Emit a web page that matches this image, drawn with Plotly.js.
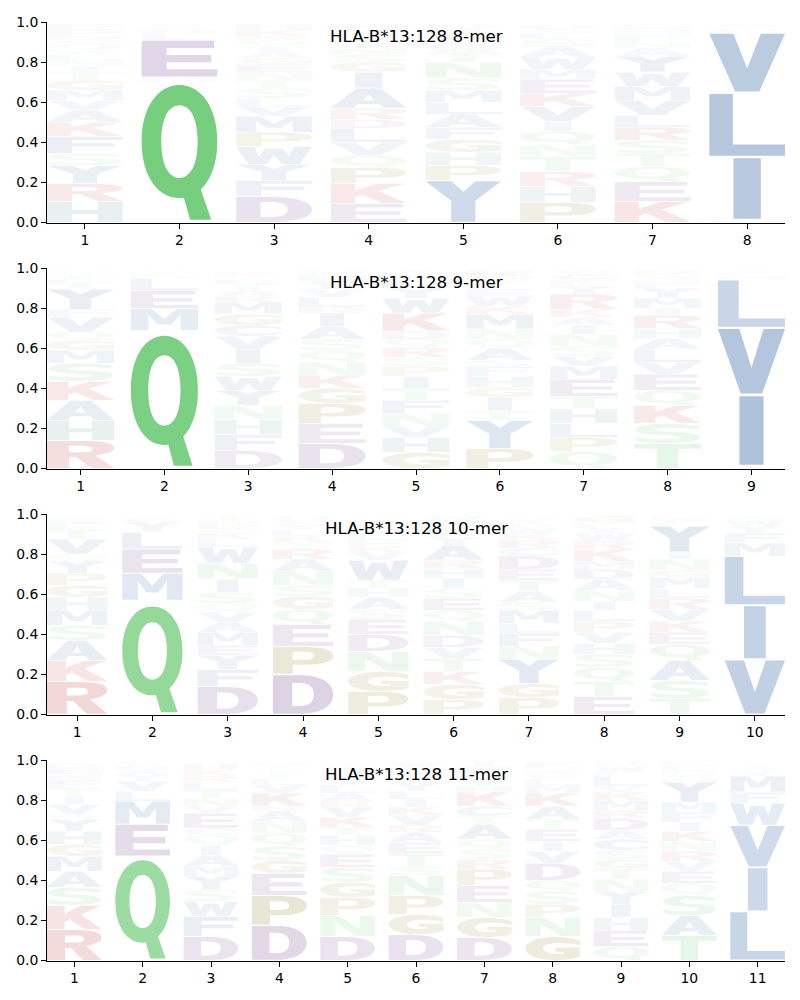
<!DOCTYPE html>
<html>
<head>
<meta charset="utf-8">
<script src="https://cdn.plot.ly/plotly-3.0.1.min.js"></script>
<style>
    body { margin: 0; background: #fff; }
    #chart { width: 800px; height: 1000px; }
</style>
</head>
<body>
<div id="chart"></div>
<script>
// Logo titles
var titles = ['HLA-B*13:128 8-mer', 'HLA-B*13:128 9-mer', 'HLA-B*13:128 10-mer', 'HLA-B*13:128 11-mer'];

// Letters per position, bottom to top, and their heights (probabilities)
var mer8Letters = ['HRYSFKAVMGTINLWQCDPE', 'QMELDAS', 'DFYWPMVLSTNEGAIQRKH', 'EKPQVLDRAIGSNTMFWH',
    'YPHGFALMSNTWVQEKD', 'PHRTNQIVKEMWASLGD', 'KEQTSRLVMWYANFHDG', 'MILVFYA'];
var mer8Heights = [
    [0.105, 0.09, 0.09, 0.06, 0.085, 0.07, 0.06, 0.05, 0.05, 0.05, 0.04, 0.03, 0.03, 0.03, 0.02, 0.03, 0.02, 0.02, 0.03, 0.03],
    [0.70, 0.025, 0.185, 0.03, 0.02, 0.015, 0.015],
    [0.13, 0.08, 0.08, 0.09, 0.07, 0.08, 0.05, 0.04, 0.05, 0.04, 0.04, 0.04, 0.03, 0.03, 0.03, 0.03, 0.02, 0.03, 0.03],
    [0.095, 0.1, 0.08, 0.06, 0.065, 0.07, 0.045, 0.055, 0.1, 0.08, 0.05, 0.04, 0.03, 0.03, 0.02, 0.02, 0.02, 0.03],
    [0.21, 0.075, 0.065, 0.065, 0.06, 0.065, 0.06, 0.06, 0.06, 0.08, 0.05, 0.03, 0.03, 0.02, 0.02, 0.02, 0.02],
    [0.1, 0.08, 0.075, 0.075, 0.06, 0.065, 0.05, 0.075, 0.065, 0.07, 0.05, 0.06, 0.05, 0.04, 0.03, 0.02, 0.02],
    [0.105, 0.1, 0.075, 0.065, 0.065, 0.065, 0.06, 0.075, 0.07, 0.07, 0.08, 0.04, 0.03, 0.03, 0.02, 0.02, 0.02],
    [0.012, 0.315, 0.32, 0.3, 0.02, 0.015, 0.01]
];

var mer9Letters = ['RHAKSMGQVFYTEIN', 'QAMELDTS', 'DFHNYWSIVCGMRATELKQ', 'DEPGKNQSAIRLVYHM',
    'GHVNFTIPSRQDKWYLMA', 'PYTIGHFSAQNMKWELVDR', 'QPLHTEMVSNIAKRYFGW', 'TSKQEVLAHRIMYFNGD', 'AIVLMFY'];
var mer9Heights = [
    [0.14, 0.1, 0.1, 0.095, 0.09, 0.065, 0.05, 0.04, 0.075, 0.04, 0.1, 0.03, 0.02, 0.02, 0.02],
    [0.675, 0.012, 0.11, 0.09, 0.06, 0.015, 0.015, 0.013],
    [0.09, 0.08, 0.075, 0.07, 0.075, 0.07, 0.065, 0.07, 0.065, 0.055, 0.055, 0.06, 0.03, 0.03, 0.03, 0.02, 0.02, 0.02, 0.01],
    [0.125, 0.1, 0.1, 0.075, 0.065, 0.065, 0.06, 0.055, 0.065, 0.065, 0.03, 0.05, 0.04, 0.04, 0.03, 0.02],
    [0.08, 0.075, 0.055, 0.065, 0.065, 0.06, 0.06, 0.05, 0.045, 0.05, 0.04, 0.04, 0.09, 0.075, 0.05, 0.04, 0.03, 0.02],
    [0.1, 0.14, 0.05, 0.065, 0.05, 0.055, 0.05, 0.03, 0.06, 0.045, 0.05, 0.075, 0.04, 0.05, 0.03, 0.03, 0.02, 0.02, 0.03],
    [0.085, 0.07, 0.07, 0.075, 0.06, 0.085, 0.065, 0.05, 0.05, 0.06, 0.045, 0.04, 0.04, 0.075, 0.04, 0.03, 0.03, 0.02],
    [0.125, 0.1, 0.09, 0.075, 0.08, 0.06, 0.065, 0.055, 0.05, 0.065, 0.035, 0.05, 0.05, 0.03, 0.02, 0.02, 0.02],
    [0.012, 0.355, 0.335, 0.24, 0.02, 0.015, 0.01]
];

var mer10Letters = ['RKASMHGPYQVTFEL', 'QTMELYDA', 'DFYEMAVQSINWLKGRHT', 'DPEQGSNARTKLYVH', 'PGNDESAHTWVKFLMRIQ',
    'PGKTVDNQESIHRAYFLMW', 'PGYNFLMSATEDCRKWVIQ', 'ETQSHVPLINADMKRWYFGC', 'TSAQEKVRLMGNIYFWD', 'VILMFYWA'];
var mer10Heights = [
    [0.165, 0.105, 0.1, 0.075, 0.075, 0.065, 0.06, 0.06, 0.06, 0.035, 0.075, 0.05, 0.03, 0.02, 0.015],
    [0.55, 0.02, 0.135, 0.12, 0.085, 0.05, 0.015, 0.015],
    [0.14, 0.085, 0.07, 0.05, 0.065, 0.05, 0.05, 0.045, 0.055, 0.065, 0.08, 0.08, 0.04, 0.03, 0.02, 0.02, 0.02, 0.025],
    [0.2, 0.14, 0.11, 0.075, 0.065, 0.055, 0.07, 0.06, 0.05, 0.035, 0.03, 0.03, 0.03, 0.02, 0.02],
    [0.115, 0.1, 0.1, 0.085, 0.075, 0.05, 0.06, 0.045, 0.04, 0.1, 0.04, 0.03, 0.03, 0.03, 0.03, 0.02, 0.02, 0.02],
    [0.075, 0.075, 0.065, 0.065, 0.055, 0.06, 0.07, 0.055, 0.06, 0.05, 0.05, 0.05, 0.04, 0.075, 0.04, 0.03, 0.03, 0.02, 0.025],
    [0.085, 0.07, 0.12, 0.065, 0.065, 0.05, 0.065, 0.04, 0.055, 0.055, 0.055, 0.065, 0.04, 0.04, 0.03, 0.03, 0.02, 0.02, 0.02],
    [0.09, 0.075, 0.07, 0.065, 0.055, 0.055, 0.055, 0.055, 0.045, 0.055, 0.055, 0.05, 0.04, 0.06, 0.04, 0.04, 0.03, 0.02, 0.035, 0.02],
    [0.08, 0.09, 0.1, 0.08, 0.06, 0.055, 0.06, 0.055, 0.05, 0.055, 0.035, 0.055, 0.035, 0.13, 0.02, 0.02, 0.01],
    [0.275, 0.27, 0.245, 0.065, 0.05, 0.035, 0.03, 0.02]
];

var mer11Letters = ['RKSAMGHYQVITFNEDW', 'QTEMLVYADS', 'DFWSYMAIQCEVNTLRKHG', 'DPEGSQNARKVLTIYH', 'DNPGSEQHTKVRALYMFWI',
    'DGPNSTEARVKILYFHMW', 'DGNEPRSQATCKHYLVMI', 'GNPSQDVIETAKMLWRYF', 'QEHIYNTGSCADRMKVLFWP', 'TASQEVRNKIFMYHWDLG', 'LIVWFMYAT'];
var mer11Heights = [
    [0.155, 0.12, 0.09, 0.08, 0.075, 0.06, 0.065, 0.06, 0.025, 0.05, 0.04, 0.04, 0.04, 0.03, 0.03, 0.02, 0.01],
    [0.51, 0.01, 0.16, 0.115, 0.05, 0.05, 0.03, 0.025, 0.02, 0.02],
    [0.12, 0.1, 0.075, 0.06, 0.065, 0.05, 0.055, 0.05, 0.05, 0.035, 0.075, 0.035, 0.04, 0.04, 0.04, 0.03, 0.03, 0.03, 0.01],
    [0.175, 0.15, 0.11, 0.065, 0.07, 0.065, 0.06, 0.05, 0.025, 0.065, 0.04, 0.03, 0.03, 0.02, 0.02, 0.015],
    [0.12, 0.105, 0.09, 0.075, 0.075, 0.065, 0.045, 0.05, 0.04, 0.05, 0.05, 0.03, 0.04, 0.04, 0.03, 0.03, 0.02, 0.02, 0.015],
    [0.13, 0.1, 0.095, 0.1, 0.045, 0.065, 0.055, 0.05, 0.035, 0.05, 0.04, 0.04, 0.04, 0.04, 0.03, 0.03, 0.02, 0.025],
    [0.115, 0.1, 0.075, 0.085, 0.08, 0.05, 0.05, 0.05, 0.075, 0.04, 0.05, 0.07, 0.03, 0.03, 0.03, 0.02, 0.02, 0.02],
    [0.12, 0.095, 0.065, 0.065, 0.055, 0.085, 0.06, 0.05, 0.06, 0.05, 0.065, 0.065, 0.04, 0.03, 0.02, 0.02, 0.015, 0.03],
    [0.07, 0.08, 0.065, 0.065, 0.065, 0.06, 0.055, 0.045, 0.045, 0.055, 0.045, 0.06, 0.04, 0.05, 0.04, 0.03, 0.05, 0.02, 0.03, 0.02],
    [0.125, 0.1, 0.1, 0.06, 0.06, 0.05, 0.05, 0.05, 0.05, 0.045, 0.05, 0.05, 0.1, 0.02, 0.02, 0.015, 0.025, 0.02],
    [0.245, 0.22, 0.21, 0.11, 0.055, 0.08, 0.025, 0.02, 0.015]
];

var logos = [
    {letters: mer8Letters, heights: mer8Heights},
    {letters: mer9Letters, heights: mer9Heights},
    {letters: mer10Letters, heights: mer10Heights},
    {letters: mer11Letters, heights: mer11Heights}
];

// Colour groups (full strength); opacity follows the letter height
var groupRGB = {
    blue: [97, 135, 184], green: [119, 206, 126], red: [205, 90, 90],
    purple: [141, 100, 162], olive: [150, 145, 60], teal: [95, 155, 150]
};
var letterGroup = {
    A: 'blue', C: 'blue', F: 'blue', I: 'blue', L: 'blue', M: 'blue', V: 'blue', W: 'blue', Y: 'blue',
    S: 'green', T: 'green', N: 'green', Q: 'green',
    K: 'red', R: 'red', D: 'purple', E: 'purple', P: 'olive', G: 'olive', H: 'teal'
};

// Bold sans glyph outlines in a 100x100 box (y up)
var glyphs = {
    A: 'M0 0L30 0L36 20L64 20L70 0L100 0L66 100L34 100Z M42 38L50 68L58 38Z',
    C: 'M100 80C88 95 72 100 55 100C22 100 0 78 0 50C0 22 22 0 55 0C72 0 88 5 100 20L100 40C90 30 78 26 62 26C43 26 33 36 33 50C33 64 43 74 62 74C78 74 90 70 100 60Z',
    D: 'M0 0L45 0C82 0 100 22 100 50C100 78 82 100 45 100L0 100Z M32 20L32 80L44 80C60 80 68 70 68 50C68 30 60 20 44 20Z',
    E: 'M0 0L100 0L100 20L33 20L33 40L92 40L92 60L33 60L33 80L96 80L96 100L0 100Z',
    F: 'M0 0L33 0L33 40L90 40L90 60L33 60L33 80L100 80L100 100L0 100Z',
    G: 'M100 82C88 95 72 100 55 100C22 100 0 78 0 50C0 22 22 0 55 0C75 0 90 6 100 14L100 54L55 54L55 36L70 36L70 27C66 26 63 26 60 26C43 26 33 36 33 50C33 64 43 74 62 74C78 74 90 70 100 62Z',
    H: 'M0 0L33 0L33 40L67 40L67 0L100 0L100 100L67 100L67 60L33 60L33 100L0 100Z',
    I: 'M32 0L68 0L68 100L32 100Z',
    K: 'M0 0L32 0L32 30L42 42L68 0L100 0L62 62L98 100L62 100L32 66L32 100L0 100Z',
    L: 'M0 0L100 0L100 18L31 18L31 100L0 100Z',
    M: 'M0 0L26 0L26 72L40 28L60 28L74 72L74 0L100 0L100 100L68 100L50 54L32 100L0 100Z',
    N: 'M0 0L28 0L28 64L66 0L100 0L100 100L72 100L72 36L34 100L0 100Z',
    P: 'M0 0L33 0L33 34L55 34C84 34 100 46 100 67C100 88 84 100 55 100L0 100Z M33 52L33 82L52 82C62 82 68 77 68 67C68 57 62 52 52 52Z',
    Q: 'M100 58C100 84 78 100 50 100C22 100 0 84 0 58C0 32 22 16 50 16C78 16 100 32 100 58Z M74 58C74 41.3 64.9 31 50 31C35.1 31 26 41.3 26 58C26 74.7 35.1 85 50 85C64.9 85 74 74.7 74 58Z M52 24L64 0L92 0L76 26Z',
    R: 'M0 0L33 0L33 40L44 40L66 0L100 0L72 46C90 52 100 62 100 73C100 91 85 100 55 100L0 100Z M33 58L33 82L52 82C62 82 68 79 68 70C68 61 62 58 52 58Z',
    S: 'M96 88C84 96 68 100 50 100C20 100 2 88 2 70C2 52 20 45 50 40C60 38 68 35 68 28C68 22 60 20 48 20C30 20 14 24 3 30L3 8C16 2 32 0 48 0C78 0 98 10 98 30C98 50 80 56 50 60C38 62 32 66 32 72C32 78 40 80 52 80C70 80 86 76 96 70Z',
    T: 'M34 0L66 0L66 80L100 80L100 100L0 100L0 80L34 80Z',
    V: 'M0 100L34 0L66 0L100 100L68 100L50 40L32 100Z',
    W: 'M0 100L16 0L40 0L50 52L60 0L84 0L100 100L76 100L70 44L62 88L38 88L30 44L24 100Z',
    Y: 'M0 100L34 52L34 0L66 0L66 52L100 100L66 100L50 74L34 100Z'
};

// map a glyph into the data box [x0,x1] x [y0,y1]
function glyphPath(ch, x0, x1, y0, y1) {
    var sx = (x1 - x0) / 100, sy = (y1 - y0) / 100;
    return glyphs[ch].replace(/([\d.]+)[ ,]+([\d.]+)/g, function(m, a, b) {
        return (x0 + a * sx).toFixed(4) + ',' + (y0 + b * sy).toFixed(4);
    });
}

var pMax = 0;
logos.forEach(function(lg) {
    lg.heights.forEach(function(col) { col.forEach(function(h) { pMax = Math.max(pMax, h); }); });
});

var traces = [];
var shapes = [];
var annotations = [];
var layout = {
    width: 800, height: 1000,
    margin: {l: 0, r: 0, t: 0, b: 0},
    paper_bgcolor: '#fff', plot_bgcolor: '#fff',
    showlegend: false,
    font: {family: 'DejaVu Sans, sans-serif', color: '#000', size: 14}
};

logos.forEach(function(lg, k) {
    var sfx = k === 0 ? '' : String(k + 1);
    var n = lg.letters.length;
    var positions = [];
    for (var i = 1; i <= n; i++) positions.push(i);

    // invisible trace so the subplot exists
    traces.push({
        type: 'scatter', mode: 'none', x: positions,
        y: lg.heights.map(function(c) { return c.reduce(function(a, b) { return a + b; }, 0); }),
        xaxis: 'x' + sfx, yaxis: 'y' + sfx, hoverinfo: 'skip'
    });

    lg.letters.forEach(function(str, j) {
        var base = 0;
        var pos = positions[j];
        lg.heights[j].forEach(function(h, m) {
            var ch = str[m];
            var rgb = groupRGB[letterGroup[ch]];
            var alpha = Math.min(1, h / pMax);
            var pad = h * 0.02;
            shapes.push({
                type: 'path', xref: 'x' + sfx, yref: 'y' + sfx,
                path: glyphPath(ch, pos - 0.4, pos + 0.4, base + pad, base + h - pad),
                fillcolor: 'rgba(' + rgb.join(',') + ',' + alpha.toFixed(3) + ')',
                fillrule: 'nonzero',
                line: {width: 0},
                layer: 'above'
            });
            base += h;
        });
    });

    var top = 22 + 246 * k;
    var bottom = top + 200.5;
    layout['xaxis' + sfx] = {
        domain: [47 / 800, 785 / 800],
        anchor: 'y' + sfx,
        range: [0.6, n + 0.4],
        tickmode: 'array', tickvals: positions,
        ticks: 'outside', ticklen: 5, tickwidth: 1, tickcolor: '#000',
        showline: true, linecolor: '#000', linewidth: 1,
        showgrid: false, zeroline: false, fixedrange: true,
        tickfont: {size: 13.9}
    };
    layout['yaxis' + sfx] = {
        domain: [1 - bottom / 1000, 1 - top / 1000],
        anchor: 'x' + sfx,
        range: [0, 1],
        tickmode: 'array', tickvals: [0, 0.2, 0.4, 0.6, 0.8, 1.0],
        ticktext: ['0.0', '0.2', '0.4', '0.6', '0.8', '1.0'],
        ticks: 'outside', ticklen: 5, tickwidth: 1, tickcolor: '#000',
        showline: true, linecolor: '#000', linewidth: 1,
        showgrid: false, zeroline: false, fixedrange: true,
        tickfont: {size: 13.9}
    };

    annotations.push({
        text: titles[k], showarrow: false,
        xref: 'x' + sfx + ' domain', yref: 'y' + sfx + ' domain',
        x: 0.5, y: 0.929, xanchor: 'center', yanchor: 'middle',
        font: {size: 16.7, color: '#000'}
    });
});

layout.shapes = shapes;
layout.annotations = annotations;

Plotly.newPlot('chart', traces, layout, {staticPlot: true});
</script>
</body>
</html>
